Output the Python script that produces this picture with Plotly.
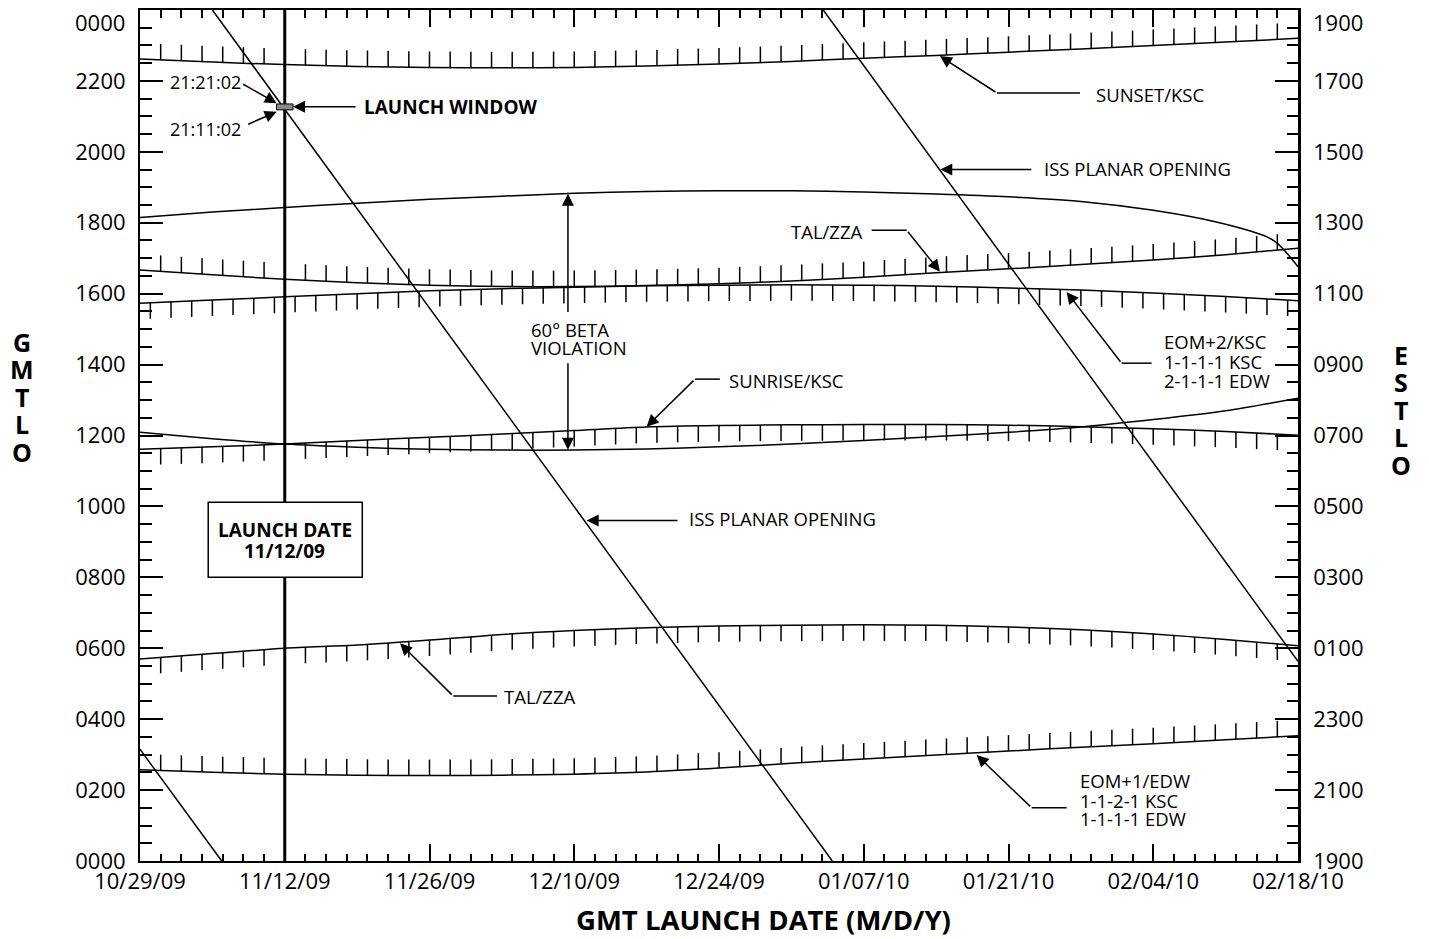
import numpy as np
import pandas as pd
import plotly.graph_objects as go

# ============================
# data (GMT hours of day vs. launch date)

START = "2009-10-29"
END = "2010-02-18"
LAUNCH_DATE = "2009-11-12"
WINDOW_OPEN = 21 + 11/60 + 2/3600     # 21:11:02
WINDOW_CLOSE = 21 + 21/60 + 2/3600    # 21:21:02

weeks = ["2009-10-29", "2009-11-05", "2009-11-12", "2009-11-19", "2009-11-26",
         "2009-12-03", "2009-12-10", "2009-12-17", "2009-12-24", "2009-12-31",
         "2010-01-07", "2010-01-14", "2010-01-21", "2010-01-28", "2010-02-04",
         "2010-02-11", "2010-02-18"]

sunset_ksc = [22.62, 22.53, 22.46, 22.41, 22.38, 22.37, 22.38, 22.42, 22.48,
              22.55, 22.64, 22.72, 22.81, 22.90, 23.00, 23.10, 23.20]

beta_upper_dates = weeks[:15] + ["2010-02-10", "2010-02-13", "2010-02-15",
                                 "2010-02-16", "2010-02-17", "2010-02-18"]
beta_upper = [18.15, 18.30, 18.43, 18.55, 18.66, 18.75, 18.83, 18.88, 18.90,
              18.90, 18.87, 18.81, 18.73, 18.60, 18.35,
              18.03, 17.80, 17.60, 17.42, 17.12, 16.76]

tal_zza_upper = [16.67, 16.53, 16.41, 16.31, 16.24, 16.20, 16.20, 16.23, 16.28,
                 16.36, 16.46, 16.59, 16.70, 16.82, 16.95, 17.10, 17.28]

eom2_ksc = [15.73, 15.82, 15.91, 16.00, 16.08, 16.14, 16.18, 16.22, 16.24,
            16.25, 16.24, 16.21, 16.16, 16.10, 16.02, 15.92, 15.80]

sunrise_ksc = [11.61, 11.68, 11.76, 11.86, 11.95, 12.04, 12.14, 12.24, 12.28,
               12.30, 12.31, 12.31, 12.29, 12.25, 12.19, 12.11, 12.01]

beta_lower = [12.09, 11.91, 11.76, 11.67, 11.61, 11.59, 11.59, 11.62, 11.68,
              11.76, 11.86, 11.97, 12.09, 12.24, 12.45, 12.70, 13.05]

tal_zza_lower = [5.70, 5.85, 6.00, 6.09, 6.23, 6.39, 6.50, 6.58, 6.63,
                 6.65, 6.66, 6.65, 6.60, 6.52, 6.40, 6.25, 6.07]

eom1_edw = [2.57, 2.50, 2.45, 2.42, 2.41, 2.42, 2.45, 2.51, 2.62,
            2.76, 2.88, 2.99, 3.10, 3.21, 3.31, 3.42, 3.53]

# ISS planar opening (three wraps of the same line)
iss_1_dates = ["2009-10-29", "2009-11-05 21:36"]
iss_1 = [3.15, 0.0]
iss_2_dates = ["2009-11-05", "2009-11-12", "2009-11-26", "2009-12-10",
               "2009-12-24", "2010-01-03 23:00"]
iss_2 = [24.0, 21.2, 15.6, 10.0, 4.4, 0.0]
iss_3_dates = ["2010-01-03 02:00", "2010-01-07", "2010-01-21", "2010-02-04",
               "2010-02-18"]
iss_3 = [24.0, 22.43, 16.83, 11.23, 5.63]

# axis labels (the top label of each side is placed by hand, see below)
gmt_hours = list(range(0, 25, 2))
gmt_labels = ["0000", "0200", "0400", "0600", "0800", "1000", "1200",
              "1400", "1600", "1800", "2000", "2200", ""]
est_labels = ["1900", "2100", "2300", "0100", "0300", "0500", "0700",
              "0900", "1100", "1300", "1500", "1700", ""]
gmt_top = "0000"
est_top = "1900"

# ============================

t0 = pd.Timestamp(START)
DAY_MS = 86400000

EVEN_DAYS = np.arange(2, 112, 2)
ODD_DAYS = np.arange(1, 112, 2)
HATCH = 0.45   # hours (~16 px)

FONT = "Open Sans"
BLACK = "black"
TEXT = 18.5


def at(day):
    return (t0 + pd.Timedelta(days=float(day))).strftime("%Y-%m-%d %H:%M")


def day_number(dates):
    return ((pd.to_datetime(dates) - t0) / pd.Timedelta(days=1)).to_numpy()


def curve(dates, values, width=1.5):
    return go.Scatter(x=dates, y=values, mode="lines",
                      line=dict(color=BLACK, width=width, shape="spline", smoothing=0.8),
                      hoverinfo="skip")


def hatches(dates, values, hatch_days, length):
    base = np.interp(hatch_days, day_number(dates), values)
    xs, ys = [], []
    for d, v in zip(hatch_days, base):
        xs += [at(d), at(d), None]
        ys += [v, v + length, None]
    return go.Scatter(x=xs, y=ys, mode="lines",
                      line=dict(color=BLACK, width=1.5), hoverinfo="skip")


fig = go.Figure()

fig.add_trace(curve(weeks, sunset_ksc))
fig.add_trace(hatches(weeks, sunset_ksc, EVEN_DAYS, HATCH))

fig.add_trace(curve(beta_upper_dates, beta_upper))

fig.add_trace(curve(weeks, tal_zza_upper))
fig.add_trace(hatches(weeks, tal_zza_upper, EVEN_DAYS, HATCH))

fig.add_trace(curve(weeks, eom2_ksc))
fig.add_trace(hatches(weeks, eom2_ksc, ODD_DAYS, -HATCH))

fig.add_trace(curve(weeks, sunrise_ksc))
fig.add_trace(hatches(weeks, sunrise_ksc, EVEN_DAYS, -HATCH))

fig.add_trace(curve(weeks, beta_lower))

fig.add_trace(curve(weeks, tal_zza_lower))
fig.add_trace(hatches(weeks, tal_zza_lower, EVEN_DAYS, -HATCH))

fig.add_trace(curve(weeks, eom1_edw))
fig.add_trace(hatches(weeks, eom1_edw, EVEN_DAYS, HATCH))

for d, v in [(iss_1_dates, iss_1), (iss_2_dates, iss_2), (iss_3_dates, iss_3)]:
    fig.add_trace(go.Scatter(x=d, y=v, mode="lines",
                             line=dict(color=BLACK, width=1.5), hoverinfo="skip"))

# invisible trace so the top / right axes get drawn
fig.add_trace(go.Scatter(x=[START], y=[0], xaxis="x2", yaxis="y2", mode="markers",
                         marker=dict(opacity=0), hoverinfo="skip"))

# ============================
# shapes: launch date line, launch date box, launch window

shapes = [
    dict(type="line", xref="x", yref="paper", x0=LAUNCH_DATE, x1=LAUNCH_DATE,
         y0=0, y1=1, line=dict(color=BLACK, width=3)),
    dict(type="rect", xref="x", yref="y", x0=at(6.6), x1=at(21.5), y0=8.0, y1=10.12,
         fillcolor="white", line=dict(color=BLACK, width=1.5)),
    dict(type="rect", xref="x", yref="y", x0=at(13.2), x1=at(14.8),
         y0=WINDOW_OPEN, y1=WINDOW_CLOSE,
         fillcolor="#8a8a8a", line=dict(color=BLACK, width=1)),
]

# leader line segments (text -> elbow)
leaders = [
    (90.91, 21.66, 82.88, 21.66),   # sunset
    (70.76, 17.79, 74.15, 17.79),   # tal/zza upper
    (56.09, 13.59, 53.68, 13.59),   # sunrise
    (97.84, 14.04, 94.94, 14.04),   # eom+2
    (34.53, 4.65, 30.30, 4.65),     # tal/zza lower
    (89.62, 1.50, 86.24, 1.50),     # eom+1
]
for x0, y0, x1, y1 in leaders:
    shapes.append(dict(type="line", xref="x", yref="y", x0=at(x0), x1=at(x1),
                       y0=y0, y1=y1, line=dict(color=BLACK, width=1.5)))

# ============================
# annotations

annotations = []

# arrows: head (day, hour), tail (day, hour)
arrows = [
    (13.22, 21.37, 9.84, 21.93),
    (13.22, 21.13, 10.32, 20.76),
    (14.80, 21.27, 20.99, 21.27),
    (77.37, 22.70, 82.88, 21.66),
    (77.40, 19.50, 86.36, 19.50),
    (77.37, 16.62, 74.15, 17.79),
    (41.39, 18.82, 41.39, 15.44),
    (41.39, 11.60, 41.39, 14.08),
    (49.00, 12.25, 53.68, 13.59),
    (89.62, 16.05, 94.94, 14.04),
    (43.20, 9.60, 52.13, 9.60),
    (25.15, 6.14, 30.30, 4.65),
    (80.92, 2.99, 86.24, 1.50),
]
for hx, hy, tx, ty in arrows:
    annotations.append(dict(x=at(hx), y=hy, ax=at(tx), ay=ty, xref="x", yref="y",
                            axref="x", ayref="y", text="", showarrow=True,
                            arrowhead=2, arrowsize=1.6, arrowwidth=1.5,
                            arrowcolor=BLACK, standoff=0, startstandoff=0))

labels = [
    (6.29, 21.97, "21:21:02", "center", False, 18),
    (6.29, 20.65, "21:11:02", "center", False, 18),
    (21.54, 21.26, "LAUNCH WINDOW", "left", True, 19),
    (92.36, 21.62, "SUNSET/KSC", "left", False, TEXT),
    (87.33, 19.53, "ISS PLANAR OPENING", "left", False, TEXT),
    (62.86, 17.75, "TAL/ZZA", "left", False, TEXT),
    (37.72, 15.00, "60° BETA", "left", False, TEXT),
    (37.72, 14.48, "VIOLATION", "left", False, TEXT),
    (56.87, 13.56, "SUNRISE/KSC", "left", False, TEXT),
    (98.90, 14.64, "EOM+2/KSC", "left", False, TEXT),
    (98.90, 14.08, "1-1-1-1 KSC", "left", False, TEXT),
    (98.90, 13.54, "2-1-1-1 EDW", "left", False, TEXT),
    (53.00, 9.66, "ISS PLANAR OPENING", "left", False, TEXT),
    (35.11, 4.63, "TAL/ZZA", "left", False, TEXT),
    (90.84, 2.28, "EOM+1/EDW", "left", False, TEXT),
    (90.84, 1.72, "1-1-2-1 KSC", "left", False, TEXT),
    (90.84, 1.20, "1-1-1-1 EDW", "left", False, TEXT),
    (14.00, 9.34, "LAUNCH DATE", "center", True, 19),
    (14.00, 8.75, "11/12/09", "center", True, 19),
]
for x, y, text, anchor, bold, size in labels:
    annotations.append(dict(x=at(x), y=y, xref="x", yref="y",
                            text=f"<b>{text}</b>" if bold else text,
                            xanchor=anchor, yanchor="middle", showarrow=False,
                            borderpad=0,
                            font=dict(family=FONT, size=size, color=BLACK)))

# top labels of the two hour axes sit a little below the frame
annotations.append(dict(x=-0.0121, y=0.986, xref="paper", yref="paper", text=gmt_top,
                        showarrow=False, xanchor="right", yanchor="middle", borderpad=0,
                        font=dict(family=FONT, size=22, color=BLACK)))
annotations.append(dict(x=1.0118, y=0.986, xref="paper", yref="paper", text=est_top,
                        showarrow=False, xanchor="left", yanchor="middle", borderpad=0,
                        font=dict(family=FONT, size=22, color=BLACK)))

# axis titles
annotations.append(dict(x=0.538, y=-0.069, xref="paper", yref="paper",
                        text="<b>GMT LAUNCH DATE (M/D/Y)</b>", showarrow=False,
                        xanchor="center", yanchor="middle", borderpad=0,
                        font=dict(family=FONT, size=27.5, color=BLACK)))
for i, ch in enumerate("GMTLO"):
    annotations.append(dict(x=-0.1019, y=0.6102 - i*0.0323, xref="paper", yref="paper",
                            text=f"<b>{ch}</b>", showarrow=False,
                            xanchor="center", yanchor="middle", borderpad=0,
                            font=dict(family=FONT, size=25, color=BLACK)))
for i, ch in enumerate("ESTLO"):
    annotations.append(dict(x=1.0889, y=0.5948 - i*0.0323, xref="paper", yref="paper",
                            text=f"<b>{ch}</b>", showarrow=False,
                            xanchor="center", yanchor="middle", borderpad=0,
                            font=dict(family=FONT, size=25, color=BLACK)))

# ============================
# layout

x_common = dict(
    type="date", range=[START, END],
    tickmode="linear", tick0=START, dtick=14*DAY_MS, tickformat="%m/%d/%y",
    ticks="inside", ticklen=17, tickwidth=1.5, tickcolor=BLACK,
    minor=dict(ticks="inside", ticklen=7, tickwidth=1.5, tickcolor=BLACK,
               tick0=START, dtick=2*DAY_MS),
    showline=True, linewidth=2, linecolor=BLACK,
    showgrid=False, zeroline=False,
)
y_common = dict(
    range=[0, 24], tickmode="array", tickvals=gmt_hours,
    ticks="inside", ticklen=23, tickwidth=1.5, tickcolor=BLACK,
    minor=dict(ticks="inside", ticklen=12, tickwidth=1.5, tickcolor=BLACK,
               tick0=0, dtick=0.5),
    showline=True, linewidth=2, linecolor=BLACK,
    showgrid=False, zeroline=False,
    ticklabelstandoff=8,
)

# the page body adds an 8 px offset, so the figure origin sits at (8, 8)
fig.update_layout(
    width=1413, height=931,
    margin=dict(l=132, r=123, t=2, b=78),
    paper_bgcolor="white", plot_bgcolor="white",
    font=dict(family=FONT, size=18, color=BLACK),
    showlegend=False,
    hovermode=False,
    xaxis=dict(x_common, tickfont=dict(family=FONT, size=22, color=BLACK),
               ticklabelstandoff=0),
    xaxis2=dict(x_common, overlaying="x", side="top", showticklabels=False,
                minor=dict(x_common["minor"], ticklen=8)),
    yaxis=dict(y_common, ticktext=gmt_labels,
               tickfont=dict(family=FONT, size=22, color=BLACK)),
    yaxis2=dict(y_common, ticktext=est_labels, overlaying="y", side="right",
                linewidth=2.5, minor=dict(y_common["minor"], ticklen=11),
                tickfont=dict(family=FONT, size=22, color=BLACK)),
    shapes=shapes,
    annotations=annotations,
)

fig.write_html("out.html", config={"displayModeBar": False})
